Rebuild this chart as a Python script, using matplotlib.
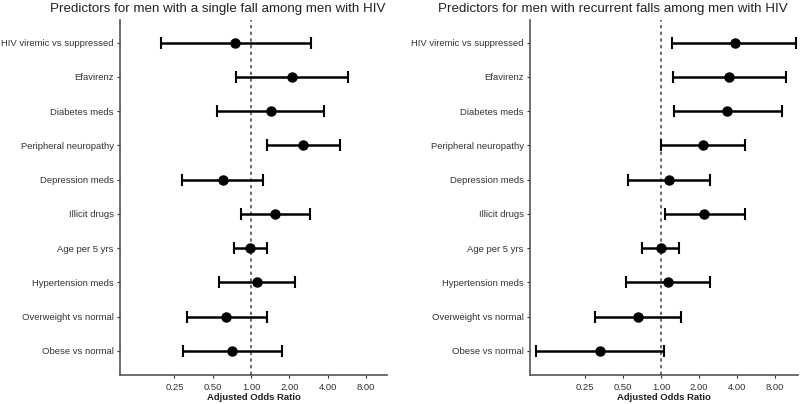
import numpy as np
import matplotlib
matplotlib.use("Agg")
import matplotlib.pyplot as plt
from matplotlib.ticker import FixedLocator, FixedFormatter, NullLocator

plt.rcParams["font.family"] = ["Liberation Sans", "DejaVu Sans"]

predictors = [
    "HIV viremic vs suppressed",
    "Efavirenz",
    "Diabetes meds",
    "Peripheral neuropathy",
    "Depression meds",
    "Illicit drugs",
    "Age per 5 yrs",
    "Hypertension meds",
    "Overweight vs normal",
    "Obese vs normal",
]

# single fall
single_or = [0.75, 2.09, 1.42, 2.55, 0.60, 1.55, 0.98, 1.12, 0.63, 0.71]
single_lo = [0.195, 0.76, 0.54, 1.32, 0.284, 0.83, 0.73, 0.56, 0.314, 0.294]
single_hi = [2.94, 5.81, 3.74, 4.97, 1.24, 2.92, 1.34, 2.22, 1.32, 1.76]

# recurrent falls
recur_or = [3.83, 3.46, 3.36, 2.14, 1.16, 2.20, 1.00, 1.13, 0.65, 0.33]
recur_lo = [1.23, 1.24, 1.26, 1.00, 0.55, 1.08, 0.71, 0.53, 0.30, 0.102]
recur_hi = [11.8, 9.76, 9.08, 4.6, 2.44, 4.6, 1.38, 2.44, 1.44, 1.06]

xticks = [0.25, 0.5, 1, 2, 4, 8]
xticklabels = ["0.25", "0.50", "1.00", "2.00", "4.00", "8.00"]

fig = plt.figure(figsize=(8, 4.04), dpi=100)

panels = [
    ([0.15, 0.072, 0.334, 0.879], single_or, single_lo, single_hi, (0.0934, 11.7),
     "Predictors for men with a single fall among men with HIV", 0.2725),
    ([0.6625, 0.072, 0.335, 0.879], recur_or, recur_lo, recur_hi, (0.091, 12.2),
     "Predictors for men with recurrent falls among men with HIV", 0.766),
]

for rect, est, lo, hi, xlim, title, tx in panels:
    ax = fig.add_axes(rect)
    y = np.arange(len(predictors))
    est = np.array(est)
    err = [est - np.array(lo), np.array(hi) - est]
    ax.axvline(1, color="#555555", linestyle=(0, (2, 2)), linewidth=1.2, zorder=1)
    ax.errorbar(est, y, xerr=err, fmt="o", color="black", markersize=6.5,
                elinewidth=1.8, capsize=4.5, capthick=1.5, zorder=3, clip_on=False)
    ax.set_xscale("log", base=2)
    ax.set_xlim(*xlim)
    ax.set_ylim(9.7, -0.67)
    ax.xaxis.set_major_locator(FixedLocator(xticks))
    ax.xaxis.set_major_formatter(FixedFormatter(xticklabels))
    ax.xaxis.set_minor_locator(NullLocator())
    ax.set_yticks(y)
    ax.set_yticklabels(predictors)
    ax.tick_params(axis="both", labelsize=6.8, colors="#333333", length=2.5, width=0.8)
    ax.tick_params(axis="x", pad=3.5)
    ax.tick_params(axis="y", pad=2)
    ax.set_xlabel("Adjusted Odds Ratio", fontsize=6.8, fontweight="bold",
                  color="#222222", labelpad=0.5)
    for side in ["top", "right"]:
        ax.spines[side].set_visible(False)
    for side in ["left", "bottom"]:
        ax.spines[side].set_color("#555555")
        ax.spines[side].set_linewidth(1.2)
    fig.text(tx, 0.978, title, ha="center", va="center", fontsize=9.6,
             color="#222222")

fig.savefig("out.png", dpi=100)
